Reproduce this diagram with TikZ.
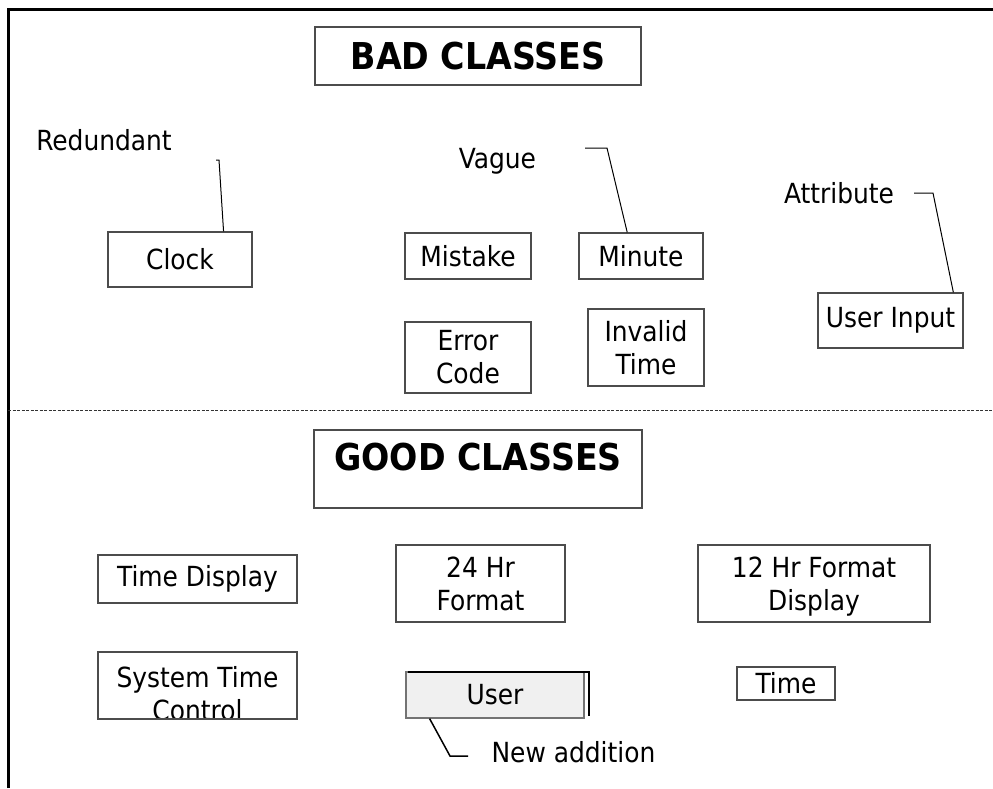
\documentclass[tikz,border=0pt]{standalone}
\usepackage{fontspec}
\setmainfont{DejaVu Sans Condensed}
\usetikzlibrary{calc}
\begin{document}
\begin{tikzpicture}[x=1pt,y=-1pt,
  font=\fontsize{27.7pt}{33pt}\selectfont,
  cls/.style={draw=black!70, line width=1.2pt, inner sep=0pt, align=center},
  title/.style={cls, font=\fontsize{37pt}{40pt}\selectfont\bfseries},
  note/.style={anchor=base, inner sep=0pt},
  callout/.style={draw=black, line width=1pt}]
\useasboundingbox (0,0) rectangle (993,788);
\draw[line width=3pt] (8,788) -- (8,9) -- (993,9);
\draw[black!80, line width=1pt, dash pattern=on 3pt off 1.5pt] (8,410) -- (993,410);

% bad classes
\node[title, minimum width=326pt, minimum height=58pt] (bad) at (478,56) {BAD CLASSES};
\node[cls, minimum width=144pt, minimum height=55pt] (clock) at (180,259.5) {Clock};
\node[cls, minimum width=126pt, minimum height=46pt] (mistake) at (468,256) {Mistake};
\node[cls, minimum width=124pt, minimum height=46pt] (minute) at (641,256) {Minute};
\node[cls, minimum width=126pt, minimum height=71pt] (errcode) at (468,357.5) {Error\\Code};
\node[cls, minimum width=116pt, minimum height=77pt] (invalid) at (646,347.5) {Invalid\\Time};
\node[cls, minimum width=145pt, minimum height=55pt] (userin) at (890.5,320.5) {User Input};

\node[note] (redundant) at (104,150) {Redundant};
\node[note] (vague) at (497.5,168) {Vague};
\node[note] (attribute) at (839,203) {Attribute};

\coordinate (redtip) at (216,160);
\coordinate (vaguetip) at (585,148);
\coordinate (attrtip) at (914,193);
\draw[callout] (redtip) -- ++(3,0) -- ($(clock.north west)!0.8!(clock.north east)$);
\draw[callout] (vaguetip) -- ++(22,0) -- ($(minute.north west)!0.39!(minute.north east)$);
\draw[callout] (attrtip) -- ++(19,0) -- ($(userin.north west)!0.93!(userin.north east)$);

% good classes
\node[title, minimum width=328pt, minimum height=78pt, text height=27pt, text depth=25pt] (good) at (478,469) {GOOD CLASSES};
\node[cls, minimum width=199pt, minimum height=48pt] (timedisp) at (197.5,579) {Time Display};
\node[cls, minimum width=199pt, minimum height=67pt,
  path picture={\node[align=center] at ($(path picture bounding box.center)+(0,8)$) {System Time\\Control};}]
  (systime) at (197.5,685.5) {};
\node[cls, minimum width=169pt, minimum height=77pt] (hr24) at (480.5,583.5) {24 Hr\\Format};
\node[cls, minimum width=232pt, minimum height=77pt, text depth=0pt] (hr12) at (814,583.5) {12 Hr Format\\Display};
\node[cls, minimum width=98pt, minimum height=33pt] (time) at (786,683.5) {Time};
\node[cls, fill=black!6, draw=black!55, minimum width=178pt, minimum height=46pt] (user) at (495,695) {User};
\draw[line width=2pt] ($(user.north west)+(3,1)$) -- ($(user.north east)+(4,1)$) -- ($(user.south east)+(4,-3)$);

\node[note] (newadd) at (573.5,762) {New addition};
\coordinate (newtip) at (468,756);
\draw[callout, line width=1.5pt] ($(user.south west)!0.135!(user.south east)$) -- (450,756) -- (newtip);
\end{tikzpicture}
\end{document}
